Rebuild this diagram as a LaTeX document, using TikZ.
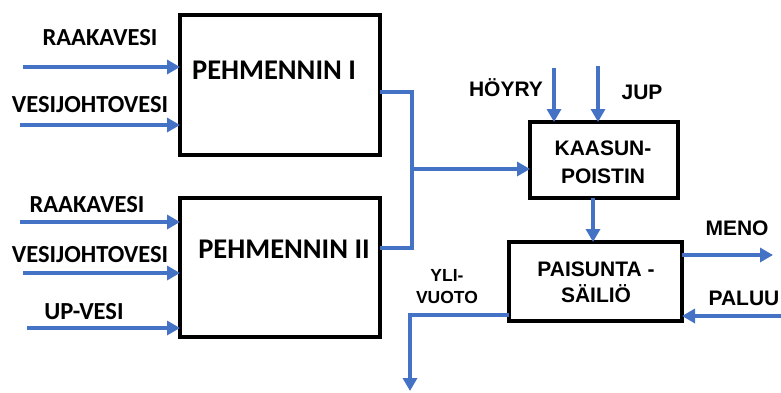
\documentclass[tikz,border=0pt]{standalone}
\usepackage{fontspec}
\usetikzlibrary{arrows.meta}
\newfontfamily\calib{Carlito}
\newfontfamily\arialf{Liberation Sans}
\definecolor{pipe}{HTML}{4472C4}
\begin{document}
\begin{tikzpicture}[x=1pt,y=-1pt,
  unit/.style={draw=black,line width=4.5pt,inner sep=0pt,outer sep=0pt},
  flow/.style={draw=pipe,line width=3.8pt},
  flowarrow/.style={flow,-{Triangle[width=14pt,length=13pt]}},
  leftlabel/.style={font=\calib\bfseries\fontsize{24.5}{27}\selectfont,inner sep=0pt},
  unitlabel/.style={font=\calib\bfseries\fontsize{28.5}{31}\selectfont,inner sep=0pt},
  rightlabel/.style={font=\arialf\bfseries\fontsize{21}{25}\selectfont,inner sep=0pt,align=center},
  smalllabel/.style={font=\arialf\bfseries\fontsize{17.5}{21}\selectfont,inner sep=0pt,align=center}]
\useasboundingbox (0,0) rectangle (781,392);

% process units
\node[unit,minimum width=200pt,minimum height=140pt] (box1) at (280,85) {};
\node[unit,minimum width=200pt,minimum height=139pt] (box2) at (280,267.5) {};
\node[unit,minimum width=148pt,minimum height=76pt] (kaasu) at (604,160) {};
\node[unit,minimum width=173pt,minimum height=79pt] (paisu) at (595.5,281.5) {};

\node[unitlabel] (t1) at (274,70) {PEHMENNIN I};
\node[unitlabel] (t2) at (284,249) {PEHMENNIN II};
\node[rightlabel] (tk) at (603,162) {KAASUN-\\[3pt]POISTIN};
\node[rightlabel] (tp) at (596,282) {PAISUNTA -\\[1pt]SÄILIÖ};

% inputs of softener I
\node[leftlabel] (l1) at (100,38) {RAAKAVESI};
\node[leftlabel] (l2) at (90,105) {VESIJOHTOVESI};
\coordinate (s1) at (23,67);
\coordinate (s2) at (20,125);
\draw[flowarrow] (s1) -- (box1.west |- s1);
\draw[flowarrow] (s2) -- (box1.west |- s2);

% inputs of softener II
\node[leftlabel] (l3) at (87,205) {RAAKAVESI};
\node[leftlabel] (l4) at (90,255) {VESIJOHTOVESI};
\node[leftlabel] (l5) at (84,312) {UP-VESI};
\coordinate (s3) at (20,222);
\coordinate (s4) at (23,273);
\coordinate (s5) at (27,328);
\draw[flowarrow] (s3) -- (box2.west |- s3);
\draw[flowarrow] (s4) -- (box2.west |- s4);
\draw[flowarrow] (s5) -- (box2.west |- s5);

% softened water to the deaerator
\coordinate (j1) at (412,92);
\coordinate (j2) at (412,248);
\coordinate (j3) at (412,169);
\draw[flow] (box1.east |- j1) -- (j1) -- (j2) -- (box2.east |- j2);
\draw[flowarrow] (j3) -- (kaasu.west |- j3);

% steam and make-up water
\node[rightlabel] (lh) at (506,88) {HÖYRY};
\node[rightlabel] (lj) at (642,92) {JUP};
\coordinate (sh) at (554,68);
\coordinate (sj) at (598,66);
\draw[flowarrow] (sh) -- (kaasu.north -| sh);
\draw[flowarrow] (sj) -- (kaasu.north -| sj);

% deaerator to expansion tank
\coordinate (k1) at (593,200);
\draw[flowarrow] (kaasu.south -| k1) -- (paisu.north -| k1);

% supply and return
\node[rightlabel] (lm) at (737,228) {MENO};
\node[rightlabel] (lr) at (744,298) {PALUU};
\coordinate (m1) at (684,255);
\coordinate (m2) at (773,255);
\coordinate (r1) at (781,316);
\draw[flowarrow] (paisu.east |- m1) -- (m2);
\draw[flowarrow] (r1) -- (paisu.east |- r1);

% overflow
\node[smalllabel] (lo) at (447,287) {YLI-\\[1pt]VUOTO};
\coordinate (o1) at (410,315);
\coordinate (o2) at (410,391);
\draw[flowarrow] (paisu.west |- o1) -- (o1) -- (o2);
\end{tikzpicture}
\end{document}
